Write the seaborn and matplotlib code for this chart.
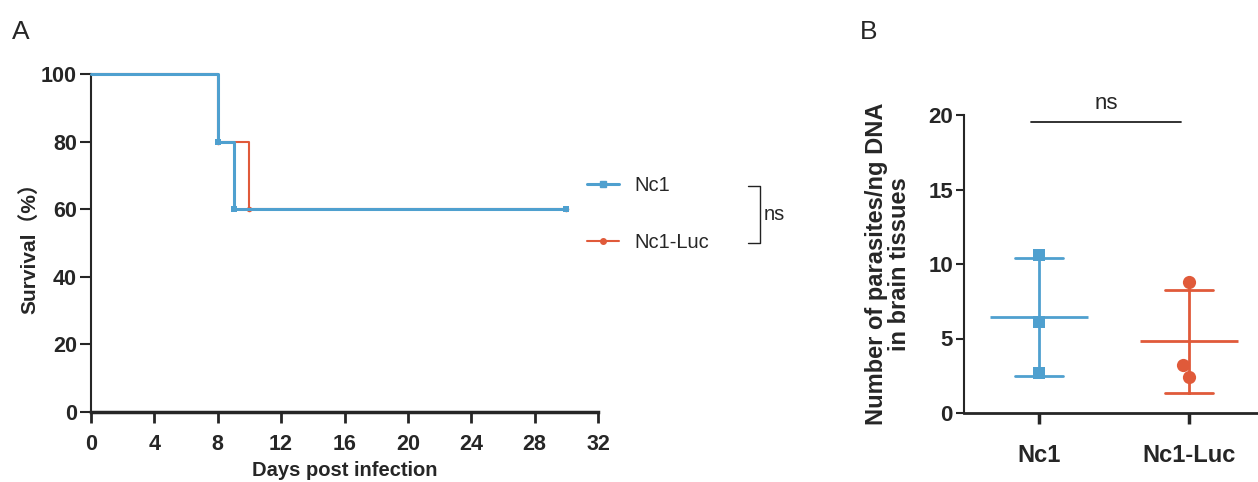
import numpy as np
import pandas as pd
import matplotlib
matplotlib.use('Agg')
import matplotlib.pyplot as plt
from matplotlib.lines import Line2D
import seaborn as sns

sns.set_style('white')
plt.rcParams['font.family'] = ['Liberation Sans', 'DejaVu Sans']

# survival data (KM steps)
nc1_days = [0, 8, 9, 30]
nc1_surv = [100, 80, 60, 60]
luc_days = [0, 8, 10, 30]
luc_surv = [100, 80, 60, 60]

# parasite load per group
groups = ['Nc1', 'Nc1-Luc']
nc1_load = [10.6, 6.1, 2.7]
luc_load = [8.8, 3.2, 2.4]

blue = '#4FA0CF'
red = '#E05A3A'

surv = pd.concat([
    pd.DataFrame({'day': nc1_days, 'surv': nc1_surv, 'group': 'Nc1'}),
    pd.DataFrame({'day': luc_days, 'surv': luc_surv, 'group': 'Nc1-Luc'}),
])
load = pd.DataFrame({'group': ['Nc1'] * 3 + ['Nc1-Luc'] * 3,
                     'value': nc1_load + luc_load})

fig = plt.figure(figsize=(12.58, 4.82), dpi=100)

# ---- panel A
ax = fig.add_axes([91 / 1258, 70 / 482, 507 / 1258, 338 / 482])
sns.lineplot(data=surv[surv.group == 'Nc1-Luc'], x='day', y='surv', color=red,
             drawstyle='steps-post', marker='o', markersize=4, markeredgewidth=0,
             markevery=[1, 2, 3], linewidth=1.5, ax=ax, zorder=2)
sns.lineplot(data=surv[surv.group == 'Nc1'], x='day', y='surv', color=blue,
             drawstyle='steps-post', marker='s', markersize=5, markeredgewidth=0,
             markevery=[1, 2, 3], linewidth=2.2, ax=ax, zorder=3)
ax.set_xlim(0, 32)
ax.set_ylim(0, 100)
ax.set_xticks(np.arange(0, 33, 4))
ax.set_yticks(np.arange(0, 101, 20))
sns.despine(ax=ax)
ax.spines['left'].set_linewidth(1.5)
ax.spines['bottom'].set_linewidth(2.5)
ax.tick_params(axis='x', direction='out', length=8, width=2, pad=8, bottom=True,
               labelsize=15.5)
ax.tick_params(axis='y', direction='out', length=8, width=1.5, pad=2, left=True,
               labelsize=15.5)
for lab in ax.get_xticklabels() + ax.get_yticklabels():
    lab.set_fontweight('bold')
ax.set_xlabel('Days post infection', fontsize=14.5, fontweight='bold', labelpad=4)
ax.set_ylabel('Survival（%）', fontsize=15, fontweight='bold', labelpad=1,
              family=['Liberation Sans', 'Noto Sans CJK SC'])
for ln in ax.lines:
    ln.set_clip_on(False)

handles = [Line2D([], [], color=blue, linewidth=2.2, marker='s', markersize=5),
           Line2D([], [], color=red, linewidth=1.5, marker='o', markersize=4)]
fig.legend(handles, groups, loc='center left', bbox_to_anchor=(587 / 1258, 1 - 214 / 482),
           frameon=False, fontsize=14.5, handlelength=1.6, handletextpad=0.75,
           labelspacing=1.85, borderpad=0, borderaxespad=0)
bx = [748 / 1258, 760 / 1258, 760 / 1258, 748 / 1258]
by = [1 - 186 / 482, 1 - 186 / 482, 1 - 243 / 482, 1 - 243 / 482]
fig.add_artist(Line2D(bx, by, color='#222222', linewidth=1.0, transform=fig.transFigure))
fig.text(764 / 1258, 1 - 215 / 482, 'ns', fontsize=14.5, va='center', ha='left')

fig.text(12 / 1258, 1 - 32 / 482, 'A', fontsize=19, va='center', ha='left')
fig.text(860 / 1258, 1 - 32 / 482, 'B', fontsize=19, va='center', ha='left')

# ---- panel B
ax2 = fig.add_axes([964 / 1258, 69 / 482, 300 / 1258, 298 / 482])
sns.pointplot(data=load, x='group', y='value', hue='group', order=groups,
              hue_order=groups, palette=[blue, red], errorbar='sd', capsize=0.32,
              markers='_', markersize=70, markeredgewidth=2, linestyles='none',
              err_kws={'linewidth': 2}, legend=False, ax=ax2)
sns.swarmplot(data=load[load.group == 'Nc1'], x='group', y='value', order=groups,
              color=blue, marker='s', size=8.5, linewidth=0, ax=ax2, zorder=4)
sns.swarmplot(data=load[load.group == 'Nc1-Luc'], x='group', y='value', order=groups,
              color=red, marker='o', size=9.5, linewidth=0, ax=ax2, zorder=4)
ax2.set_xlim(-0.497, 1.5)
ax2.set_ylim(0, 20)
ax2.set_yticks([0, 5, 10, 15, 20])
sns.despine(ax=ax2)
ax2.spines['left'].set_linewidth(1.5)
ax2.spines['bottom'].set_linewidth(2)
ax2.tick_params(axis='x', direction='out', length=8, width=2.5, pad=14, bottom=True)
ax2.tick_params(axis='y', direction='out', length=6, width=1.5, pad=2, left=True)
for lab in ax2.get_xticklabels():
    lab.set_fontweight('bold')
    lab.set_fontsize(17)
for lab in ax2.get_yticklabels():
    lab.set_fontweight('bold')
    lab.set_fontsize(16)
ax2.set_xlabel('')
ax2.set_ylabel('Number of parasites/ng DNA\nin brain tissues', fontsize=17,
               fontweight='bold', labelpad=12, linespacing=1.05)
ax2.plot([-0.05, 0.95], [19.5, 19.5], color='#222222', linewidth=1.3, clip_on=False)
ax2.text(0.45, 20.1, 'ns', fontsize=16, ha='center', va='bottom')

fig.savefig('out.png', dpi=100)
